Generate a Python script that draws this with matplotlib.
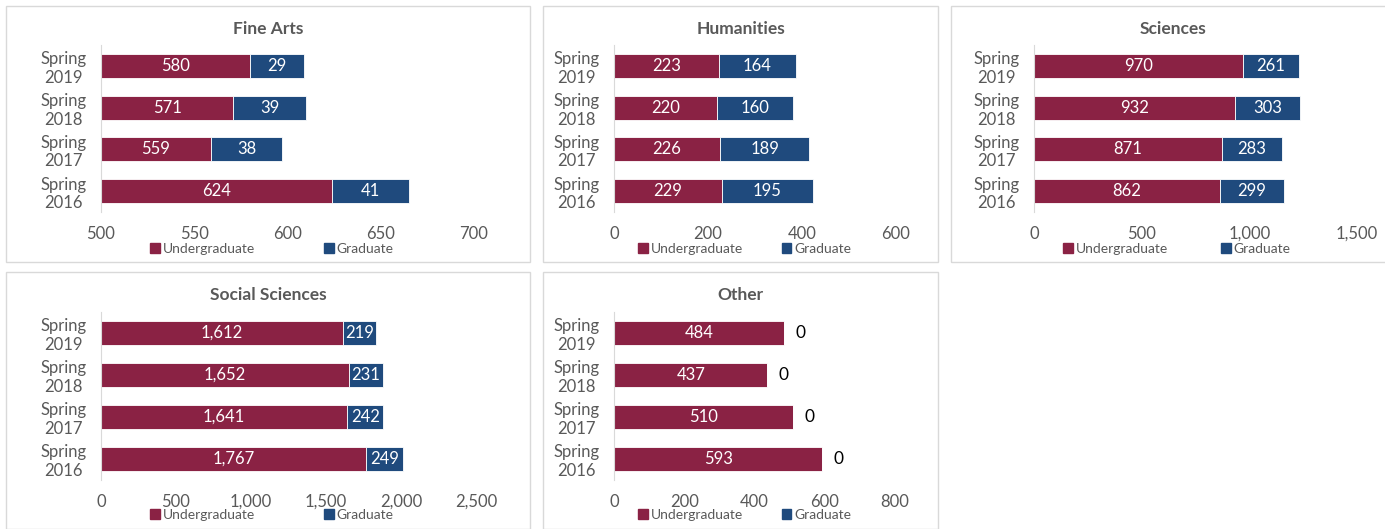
import numpy as np
import matplotlib
matplotlib.use("Agg")
import matplotlib.pyplot as plt
from matplotlib.patches import Rectangle, Patch

plt.rcParams['font.family'] = ['Lato', 'DejaVu Sans']

# data, ordered 2016 -> 2019 (bottom to top)
terms = ["Spring\n2016", "Spring\n2017", "Spring\n2018", "Spring\n2019"]
fine_ug = [624, 559, 571, 580]
fine_gr = [41, 38, 39, 29]
hum_ug = [229, 226, 220, 223]
hum_gr = [195, 189, 160, 164]
sci_ug = [862, 871, 932, 970]
sci_gr = [299, 283, 303, 261]
soc_ug = [1767, 1641, 1652, 1612]
soc_gr = [249, 242, 231, 219]
oth_ug = [593, 510, 437, 484]
oth_gr = [0, 0, 0, 0]

UG_COLOR = "#8A2244"
GR_COLOR = "#1F4A7D"
TEXT = "#595959"
GRID = "#D9D9D9"

W, H = 1385, 529
fig = plt.figure(figsize=(W / 100, H / 100), dpi=100)


def px_rect(x0, y0, x1, y1):
    return [x0 / W, 1 - y1 / H, (x1 - x0) / W, (y1 - y0) / H]


panels = [
    # title, ug, gr, xlim, ticks, frame, axes box, colspacing
    ("Fine Arts", fine_ug, fine_gr, (500, 700), [500, 550, 600, 650, 700],
     (6, 6, 530, 262), (101, 45, 474, 212), 5.0),
    ("Humanities", hum_ug, hum_gr, (0, 600), [0, 200, 400, 600],
     (543, 6, 938, 262), (614, 45, 896, 212), 2.8),
    ("Sciences", sci_ug, sci_gr, (0, 1500), [0, 500, 1000, 1500],
     (951, 6, 1395, 262), (1034, 45, 1357, 212), 3.8),
    ("Social Sciences", soc_ug, soc_gr, (0, 2500), [0, 500, 1000, 1500, 2000, 2500],
     (6, 272, 530, 529), (101, 312, 476, 480), 5.0),
    ("Other", oth_ug, oth_gr, (0, 800), [0, 200, 400, 600, 800],
     (543, 272, 938, 529), (614, 312, 895, 480), 2.8),
]

y = np.arange(len(terms))

for title, ug, gr, xlim, ticks, frame, box, colsp in panels:
    fx0, fy0, fx1, fy1 = frame
    fig.patches.append(Rectangle((fx0 / W, 1 - fy1 / H), (fx1 - fx0) / W, (fy1 - fy0) / H,
                                 transform=fig.transFigure, fill=False,
                                 edgecolor=GRID, linewidth=1.0))
    fig.text((fx0 + fx1) / 2 / W, 1 - (fy0 + 23) / H, title, ha="center", va="center",
             fontsize=12.5, fontweight="bold", color=TEXT)

    ax = fig.add_axes(px_rect(*box))
    ug_bars = ax.barh(y, ug, height=0.57, color=UG_COLOR, edgecolor="white", linewidth=0.6)
    gr_bars = ax.barh(y, gr, left=ug, height=0.57, color=GR_COLOR, edgecolor="white", linewidth=0.6)

    ax.bar_label(ug_bars, labels=[f"{v:,}" for v in ug], label_type="center",
                 color="white", fontsize=12)
    if max(gr) > 0:
        ax.bar_label(gr_bars, labels=[f"{v:,}" for v in gr], label_type="center",
                     color="white", fontsize=12)
    else:
        ax.bar_label(gr_bars, labels=[f"{v:,}" for v in gr], label_type="edge",
                     padding=8, color="black", fontsize=12.5)

    ax.set_xlim(*xlim)
    ax.set_ylim(-0.5, len(terms) - 0.5)
    ax.set_xticks(ticks)
    ax.set_xticklabels([f"{t:,}" for t in ticks])
    ax.set_yticks(y)
    ax.set_yticklabels(terms, ha="center", linespacing=1.2)
    ax.tick_params(axis="y", length=0, pad=27, labelsize=12, labelcolor=TEXT)
    ax.tick_params(axis="x", length=0, pad=10, labelsize=12, labelcolor=TEXT)
    for s in ("top", "right", "bottom"):
        ax.spines[s].set_visible(False)
    ax.spines["left"].set_color(GRID)
    ax.patch.set_alpha(0)

    cx = (fx0 + fx1) / 2 / W + 4 / W
    handles = [Patch(color=UG_COLOR, label="Undergraduate"), Patch(color=GR_COLOR, label="Graduate")]
    fig.legend(handles=handles, loc="center", bbox_to_anchor=(cx, 1 - (fy0 + 243) / H),
               ncol=2, frameon=False, fontsize=10, handlelength=0.7, handleheight=0.7,
               handletextpad=0.2, columnspacing=colsp, labelcolor=TEXT,
               borderpad=0, borderaxespad=0)

fig.savefig("out.png", dpi=100)
